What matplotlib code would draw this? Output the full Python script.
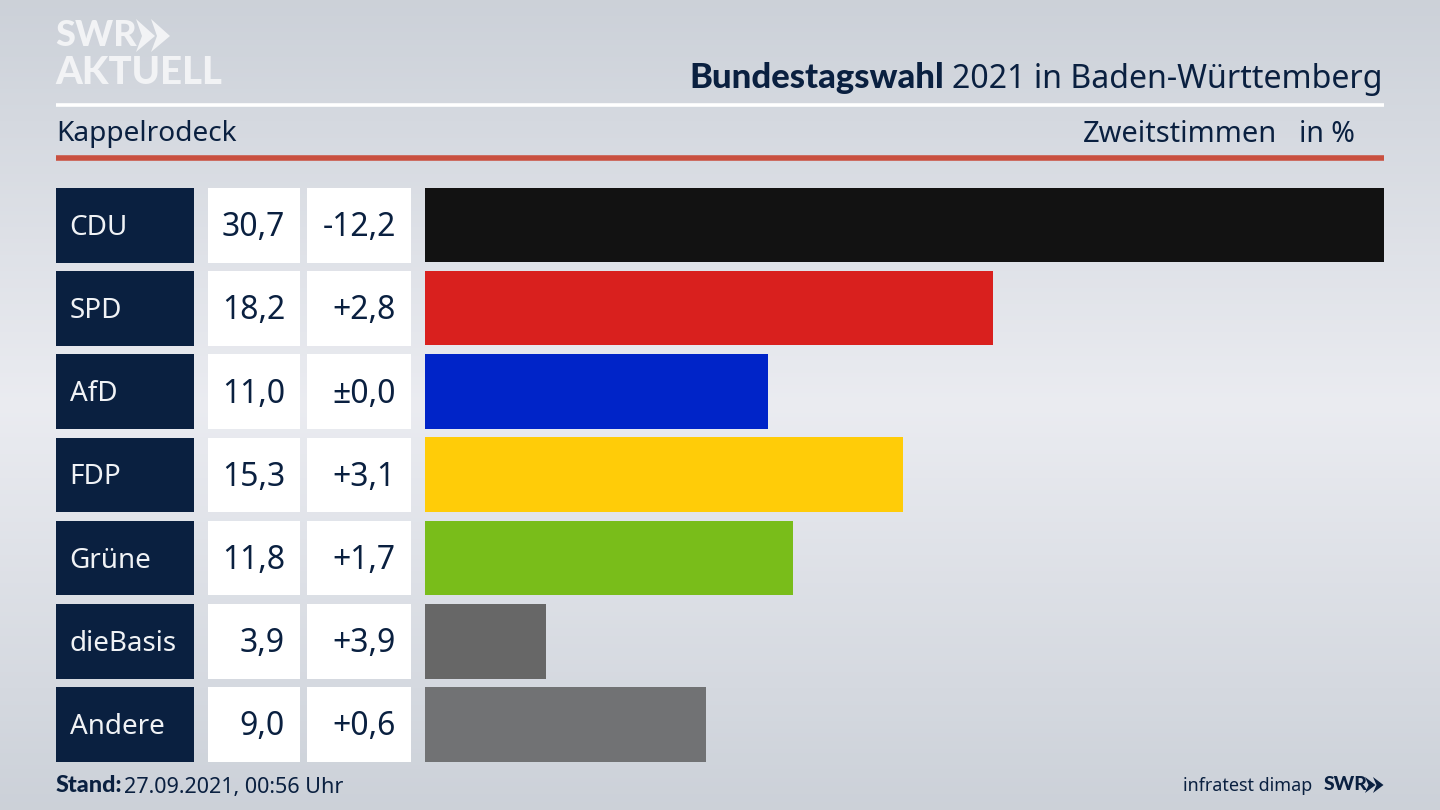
import matplotlib
matplotlib.use('Agg')
import matplotlib.pyplot as plt
from matplotlib.patches import Rectangle, Polygon
import numpy as np

parties = ['CDU', 'SPD', 'AfD', 'FDP', 'Grüne', 'dieBasis', 'Andere']
values = [30.7, 18.2, 11.0, 15.3, 11.8, 3.9, 9.0]
value_labels = ['30,7', '18,2', '11,0', '15,3', '11,8', '3,9', '9,0']
diff_labels = ['-12,2', '+2,8', '±0,0', '+3,1', '+1,7', '+3,9', '+0,6']
colors = ['#121212', '#d9201e', '#0024c8', '#ffcc08', '#79bd1a', '#676767', '#717274']

navy = '#0a2040'
logo = '#f2f3f5'
plt.rcParams['font.family'] = ['Noto Sans', 'DejaVu Sans']
# the Noto Sans here has no real bold cut
bold = dict(family=['Lato', 'DejaVu Sans'], fontweight='black')

W, H = 1440, 810
fig = plt.figure(figsize=(W / 100, H / 100), dpi=100)

# pixel coords axes for everything around the bars
bg = fig.add_axes([0, 0, 1, 1])
bg.set_xlim(0, W)
bg.set_ylim(H, 0)
bg.axis('off')

# vertical background gradient
grad = np.interp(np.linspace(0, 1, 200), [0, 0.5, 1], [0, 1, 0])
top = np.array([0.80, 0.82, 0.85])
mid = np.array([0.92, 0.925, 0.945])
img = top + (mid - top) * grad[:, None]
bg.imshow(img[:, None, :], extent=[0, W, H, 0], aspect='auto', zorder=0)

# logo top left
bg.text(55, 36, 'SWR', color=logo, fontsize=26, va='center', ha='left', **bold)
for x0 in (136, 151):
    bg.add_patch(Polygon([(x0, 19), (x0 + 19, 36), (x0, 52), (x0 + 6, 36)], closed=True, color=logo, lw=0))
bg.text(55, 73, 'AKTUELL', color=logo, fontsize=27.5, va='center', ha='left', **bold)

# header
bg.plot([56, 1384], [105, 105], color='white', lw=2.6, solid_capstyle='butt')
bg.plot([56, 1384], [157.5, 157.5], color='#c9503f', lw=4, solid_capstyle='butt')
t = bg.text(1383, 79, '2021 in Baden-Württemberg', color=navy, fontsize=23.1, ha='right', va='center')
fig.canvas.draw()
bb = t.get_window_extent()
bg.text(bb.x0 - 8, 78, 'Bundestagswahl', color=navy, fontsize=24.9, ha='right', va='center', **bold)
bg.text(56, 134, 'Kappelrodeck', color=navy, fontsize=20.2, ha='left', va='center')
bg.text(1277, 134, 'Zweitstimmen', color=navy, fontsize=20.9, ha='right', va='center')
bg.text(1355, 134, 'in %', color=navy, fontsize=20.5, ha='right', va='center')

# table cells + labels
row_top = 188
row_h = 74.5
step = 83.2
for i, p in enumerate(parties):
    y = row_top + i * step
    yc = y + row_h / 2
    bg.add_patch(Rectangle((56, y), 137.5, row_h, color=navy, lw=0))
    bg.add_patch(Rectangle((208, y), 91.5, row_h, color='white', lw=0))
    bg.add_patch(Rectangle((307, y), 103.5, row_h, color='white', lw=0))
    bg.text(69.5, yc + 2.5, p, color='#f0f2f5', fontsize=20, ha='left', va='center')
    bg.text(285, yc + 2.5, value_labels[i], color=navy, fontsize=23, ha='right', va='center')
    bg.text(396, yc + 2.5, diff_labels[i], color=navy, fontsize=23, ha='right', va='center')

# bars, x scale: 30.7 reaches the right edge
ax = fig.add_axes([424.5 / W, 1 - 762 / H, (1384 - 424.5) / W, (762 - 187.5) / H])
ax.patch.set_alpha(0)
ax.barh(range(len(parties)), values, color=colors, height=row_h / step)
ax.set_xlim(0, 30.7)
ax.set_ylim(len(parties) - 1 + (row_h / step) / 2, -(row_h / step) / 2)
ax.axis('off')

# footer
s = bg.text(56, 786, 'Stand:', color=navy, fontsize=16.8, ha='left', va='center', **bold)
fig.canvas.draw()
bb = s.get_window_extent()
bg.text(bb.x1 + 1, 787, '27.09.2021, 00:56 Uhr', color=navy, fontsize=15.5, ha='left', va='center')
bg.text(1312, 786, 'infratest dimap', color=navy, fontsize=12.9, ha='right', va='center')
bg.text(1324, 785, 'SWR', color=navy, fontsize=14, ha='left', va='center', **bold)
for x0 in (1365, 1373):
    bg.add_patch(Polygon([(x0, 777), (x0 + 10.5, 785), (x0, 793), (x0 + 3.5, 785)], closed=True, color=navy, lw=0))

fig.savefig('out.png', dpi=100)
